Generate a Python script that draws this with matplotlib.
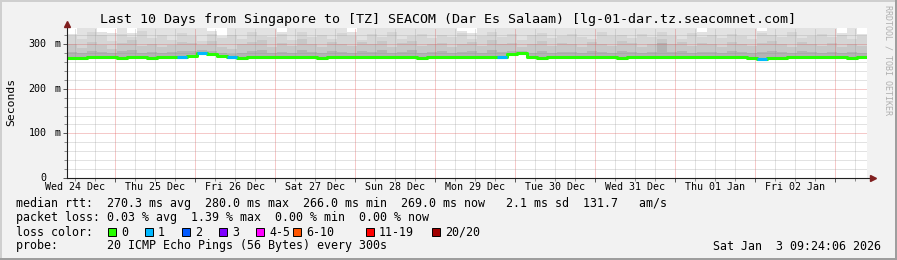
#!/usr/bin/python

# Smokeping style latency chart (10 days, Singapore -> SEACOM Dar Es Salaam)

import numpy as np
import matplotlib
matplotlib.use('Agg')
import matplotlib.pyplot as plt
import matplotlib.transforms as mtrans
from matplotlib.patches import Rectangle

W, H = 897, 260

# time axis in days since Wed 24 Dec 00:00, one bin = 3 hours
t_start = 0.4
bin_days = 0.125
day_labels = ['Wed 24 Dec', 'Thu 25 Dec', 'Fri 26 Dec', 'Sat 27 Dec', 'Sun 28 Dec',
              'Mon 29 Dec', 'Tue 30 Dec', 'Wed 31 Dec', 'Thu 01 Jan', 'Fri 02 Jan']

# median rtt per bin (ms)
median_ms = [269, 268, 271, 272, 271, 269, 271, 270, 268, 270,
             271, 272, 273, 279, 277, 273, 270, 269, 270, 271,
             270, 270, 271, 272, 270, 269, 271, 272, 271, 270,
             270, 270, 271, 270, 271, 269, 271, 272, 271, 270,
             271, 270, 271, 270, 278, 280, 272, 269, 270, 270,
             271, 270, 270, 271, 270, 269, 270, 271, 270, 270,
             270, 271, 270, 271, 270, 270, 271, 270, 269, 267,
             268, 269, 270, 270, 271, 270, 271, 270, 269, 270]

# lost pings per bin (out of 20)
lost = [0, 0, 0, 0, 0, 0, 0, 0, 0, 0,
        0, 1, 0, 1, 0, 0, 1, 0, 0, 0,
        0, 0, 0, 0, 0, 0, 0, 0, 0, 0,
        0, 0, 0, 0, 0, 0, 0, 0, 0, 0,
        0, 0, 0, 1, 0, 0, 0, 0, 0, 0,
        0, 0, 0, 0, 0, 0, 0, 0, 0, 0,
        0, 0, 0, 0, 0, 0, 0, 0, 0, 1,
        0, 0, 0, 0, 0, 0, 0, 0, 0, 0]

# smoke: top of each grey band, outermost first (ms)
smoke_top = [322, 336, 336, 328, 325, 336, 324, 336, 336, 336,
             336, 336, 336, 336, 330, 318, 336, 336, 336, 336,
             336, 328, 336, 336, 336, 336, 336, 336, 326, 336,
             336, 336, 336, 336, 336, 336, 336, 336, 336, 330,
             324, 336, 336, 336, 336, 336, 336, 336, 336, 336,
             336, 336, 336, 336, 336, 336, 336, 336, 336, 336,
             336, 336, 336, 326, 336, 336, 336, 336, 336, 330,
             336, 336, 336, 336, 336, 336, 336, 324, 336, 322]
smoke_upper = [318, 312, 326, 320, 308, 322, 316, 330, 314, 320,
               310, 324, 318, 306, 322, 314, 320, 312, 326, 318,
               316, 322, 310, 328, 316, 320, 312, 324, 318, 310,
               322, 316, 326, 312, 318, 322, 314, 320, 316, 324,
               312, 318, 326, 316, 322, 310, 320, 324, 314, 318,
               322, 316, 312, 326, 318, 320, 314, 322, 316, 328,
               318, 312, 324, 316, 320, 314, 322, 318, 312, 324,
               320, 316, 326, 314, 318, 322, 316, 320, 312, 318]
smoke_mid = [300, 292, 305, 298, 290, 303, 310, 295, 300, 294,
             298, 305, 302, 298, 306, 294, 290, 300, 305, 310,
             293, 302, 296, 312, 300, 294, 305, 300, 296, 304,
             300, 306, 294, 302, 308, 296, 300, 303, 294, 300,
             305, 296, 310, 300, 302, 294, 300, 306, 296, 302,
             300, 294, 304, 300, 296, 306, 302, 294, 300, 312,
             300, 304, 296, 302, 300, 294, 305, 300, 296, 302,
             306, 300, 294, 304, 300, 296, 302, 294, 300, 296]
smoke_inner = [282, 280, 285, 283, 279, 284, 286, 281, 283, 280,
               282, 285, 284, 286, 284, 279, 278, 281, 284, 287,
               280, 283, 281, 286, 282, 280, 284, 282, 281, 285,
               282, 286, 280, 283, 287, 281, 282, 284, 280, 282,
               284, 281, 286, 282, 285, 284, 280, 285, 281, 283,
               282, 280, 284, 282, 281, 285, 283, 280, 282, 302,
               282, 284, 281, 283, 282, 280, 285, 282, 281, 283,
               285, 282, 280, 284, 282, 281, 283, 280, 282, 281]
smoke_shades = ['#e2e2e2', '#d5d5d5', '#c7c7c7', '#b3b3b3']

y_ticks = [0, 100, 200, 300]
loss_labels = ['0', '1', '2', '3', '4-5', '6-10', '11-19', '20/20']
loss_colors = ['#26ff00', '#00b8ff', '#0059ff', '#7e00ff', '#ff00ff', '#ff5500', '#ff0000', '#a00000']

stats_lines = [
    'median rtt:  270.3 ms avg  280.0 ms max  266.0 ms min  269.0 ms now   2.1 ms sd  131.7   am/s',
    'packet loss: 0.03 % avg  1.39 % max  0.00 % min  0.00 % now',
]
probe_line = 'probe:       20 ICMP Echo Pings (56 Bytes) every 300s'
stamp = 'Sat Jan  3 09:24:06 2026'
title = 'Last 10 Days from Singapore to [TZ] SEACOM (Dar Es Salaam) [lg-01-dar.tz.seacomnet.com]'

MONO = 'DejaVu Sans Mono'


def loss_index(n):
    if n <= 3:
        return n
    if n <= 5:
        return 4
    if n <= 10:
        return 5
    if n <= 19:
        return 6
    return 7


def px(x, y):
    return x / W, 1 - y / H


def stepv(v):
    v = np.asarray(v, dtype=float)
    return np.append(v, v[-1])


fig = plt.figure(figsize=(W / 100, H / 100), dpi=100, facecolor='#f2f2f2')
ax = fig.add_axes([67 / W, 82 / H, 800 / W, 150 / H])
ax.set_facecolor('white')
ax.set_xlim(t_start, t_start + 10)
ax.set_ylim(0, 336)

edges = t_start + bin_days * np.arange(len(median_ms) + 1)
bottom = stepv(median_ms) - 2

for band, shade in zip([smoke_top, smoke_upper, smoke_mid, smoke_inner], smoke_shades):
    ax.fill_between(edges, bottom, stepv(band), step='post', color=shade, lw=0, zorder=1)

# grid: minor every 6 h / 20 ms, major every day / 100 ms
for d in np.arange(0, 11, 0.25):
    if t_start < d < t_start + 10:
        if d % 1 == 0:
            ax.axvline(d, color='#de4f4f', alpha=0.6, lw=0.72, ls=(0, (1, 1)), zorder=2)
        else:
            ax.axvline(d, color='#8f8f8f', alpha=0.5, lw=0.72, ls=(0, (1, 1)), zorder=2)
for v in range(20, 336, 20):
    if v % 100 == 0:
        ax.axhline(v, color='#de4f4f', alpha=0.6, lw=0.72, ls=(0, (1, 1)), zorder=2)
    else:
        ax.axhline(v, color='#8f8f8f', alpha=0.5, lw=0.72, ls=(0, (1, 1)), zorder=2)

# median line coloured by loss
ax.step(edges, stepv(median_ms), where='post', color=loss_colors[0], lw=2.2, zorder=3)
for i, n in enumerate(lost):
    if n > 0:
        ax.plot([edges[i], edges[i + 1]], [median_ms[i], median_ms[i]],
                color=loss_colors[loss_index(n)], lw=2.2, solid_capstyle='butt', zorder=4)

# axes and arrows
for s in ['top', 'right', 'bottom', 'left']:
    ax.spines[s].set_visible(False)
ax.plot([0, 0], [0, 1.01], transform=ax.transAxes, color='#1f1f1f', lw=0.8, clip_on=False, zorder=5)
ax.plot([0, 1.004], [0, 0], transform=ax.transAxes, color='#1f1f1f', lw=0.8, clip_on=False, zorder=5)
ax.plot([0], [1.03], marker='^', ms=4.5, color='#801f1f', transform=ax.transAxes, clip_on=False, zorder=6)
ax.plot([1.007], [0], marker='>', ms=4.5, color='#801f1f', transform=ax.transAxes, clip_on=False, zorder=6)

ax.set_xticks(np.arange(1, 11))
ax.set_xticks(np.arange(0.5, 10.5, 0.25), minor=True)
ax.set_yticks(y_ticks)
ax.set_yticks(range(0, 336, 20), minor=True)
ax.tick_params(which='major', length=3, width=0.7, color='#555555', labelbottom=False, labelleft=False)
ax.tick_params(which='minor', length=2, width=0.7, color='#888888')

# tick labels
lab_tr = mtrans.blended_transform_factory(fig.transFigure, ax.transData)
for v in y_ticks:
    ax.text(46.5 / W, v, str(v), transform=lab_tr, ha='right', va='center',
            fontsize=7.2, family=MONO)
    if v > 0:
        ax.text(54 / W, v, 'm', transform=lab_tr, ha='left', va='center',
                fontsize=7.2, family=MONO)
for i, lab in enumerate(day_labels):
    ax.text(i + 0.5, -9 / 150, lab, transform=ax.get_xaxis_transform(), ha='center', va='center',
            fontsize=7.2, family=MONO)

fig.text(*px(448, 19), title, ha='center', va='center', fontsize=9.6, family=MONO)
fig.text(*px(11, 102), 'Seconds', rotation=90, ha='center', va='center', fontsize=8.2, family=MONO)
fig.text(*px(888, 5), 'RRDTOOL / TOBI OETIKER', rotation=270, ha='center', va='top',
         fontsize=6, family=MONO, color='#b0b0b0')

# legend
for k, line in enumerate(stats_lines):
    fig.text(*px(16, 204 + 14 * k), line, ha='left', va='center', fontsize=8.4, family=MONO)
fig.text(*px(16, 232), 'loss color:', ha='left', va='center', fontsize=8.4, family=MONO)
swatch_x = [108, 145, 182, 219, 256, 293, 366, 432]
for sx, lab, col in zip(swatch_x, loss_labels, loss_colors):
    fig.patches.append(Rectangle((sx / W, 1 - 236 / H), 8 / W, 8 / H, transform=fig.transFigure,
                                 facecolor=col, edgecolor='black', lw=0.7))
    fig.text(*px(sx + 13, 232), lab, ha='left', va='center', fontsize=8.4, family=MONO)
fig.text(*px(16, 246), probe_line, ha='left', va='center', fontsize=8.4, family=MONO)
fig.text(*px(881, 246), stamp, ha='right', va='center', fontsize=8.4, family=MONO)

# frame shading
fig.patches.append(Rectangle((0, 0), 1, 2 / H, transform=fig.transFigure, color='#9e9e9e', lw=0))
fig.patches.append(Rectangle((1 - 2 / W, 0), 2 / W, 1, transform=fig.transFigure, color='#9e9e9e', lw=0))
fig.patches.append(Rectangle((0, 1 - 2 / H), 1 - 2 / W, 2 / H, transform=fig.transFigure, color='#cfcfcf', lw=0))
fig.patches.append(Rectangle((0, 2 / H), 2 / W, 1 - 2 / H, transform=fig.transFigure, color='#cfcfcf', lw=0))

fig.savefig('out.png', dpi=100, facecolor=fig.get_facecolor())
